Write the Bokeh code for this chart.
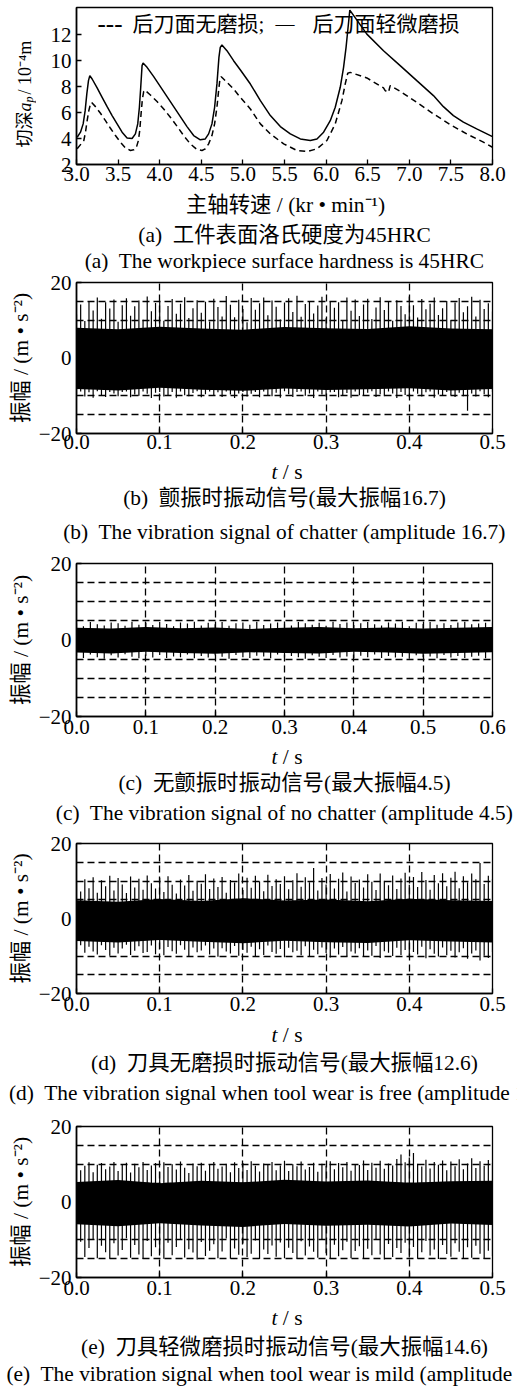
import numpy as np
from math import pi
from bokeh.plotting import figure
from bokeh.models import Label, FixedTicker, Range1d, CustomJSTickFormatter
from bokeh.layouts import column, row
from bokeh.embed import file_html
from bokeh.resources import INLINE

# ---------------- data : panel (a) stability lobes ----------------
A_XTICKS = [3.0, 3.5, 4.0, 4.5, 5.0, 5.5, 6.0, 6.5, 7.0, 7.5, 8.0]
A_YTICKS = [2, 4, 6, 8, 10, 12]

SPEED_NOWEAR = [3.008, 3.088, 3.108, 3.128, 3.148, 3.168, 3.18, 3.228, 3.288, 3.348, 3.408, 3.468,
                3.528, 3.588, 3.648, 3.688, 3.72, 3.744, 3.76, 3.776, 3.792, 3.808, 3.82, 3.888,
                3.968, 4.048, 4.128, 4.208, 4.288, 4.368, 4.448, 4.508, 4.548, 4.588, 4.628, 4.66,
                4.688, 4.708, 4.724, 4.74, 4.808, 4.888, 4.968, 5.09, 5.21, 5.33, 5.49, 5.65, 5.77,
                5.89, 6.01, 6.11, 6.19, 6.23, 6.26, 6.29, 6.49, 6.69, 6.71, 6.75, 6.77, 6.89, 7.09,
                7.29, 7.49, 7.69, 7.89, 8.0]
DEPTH_NOWEAR = [3.21, 3.85, 4.49, 5.38, 6.15, 6.67, 6.79, 6.46, 5.95, 5.38, 4.79, 4.23, 3.72, 3.28,
                3.08, 3.13, 3.33, 3.85, 4.62, 5.90, 7.05, 7.64, 7.74, 7.36, 6.85, 6.28, 5.64, 4.95,
                4.23, 3.59, 3.15, 3.08, 3.21, 3.59, 4.23, 5.13, 6.41, 7.69, 8.59, 8.77, 8.33, 7.82,
                7.18, 6.28, 5.13, 4.36, 3.59, 3.08, 3.0, 3.21, 3.85, 5.13, 6.92, 8.21, 9.03, 9.10,
                8.67, 7.90, 7.69, 7.56, 8.08, 7.64, 6.79, 5.90, 5.08, 4.36, 3.72, 3.33]

SPEED_MILD = [3.008, 3.048, 3.08, 3.104, 3.124, 3.144, 3.16, 3.188, 3.248, 3.308, 3.368, 3.428,
              3.488, 3.548, 3.608, 3.668, 3.708, 3.736, 3.756, 3.772, 3.788, 3.80, 3.848, 3.928,
              4.008, 4.088, 4.168, 4.248, 4.328, 4.408, 4.488, 4.548, 4.588, 4.628, 4.66, 4.688,
              4.712, 4.728, 4.748, 4.808, 4.888, 4.968, 5.09, 5.21, 5.33, 5.45, 5.57, 5.69, 5.81,
              5.89, 5.97, 6.05, 6.11, 6.17, 6.21, 6.24, 6.26, 6.285, 6.49, 6.69, 6.89, 7.09, 7.29,
              7.41, 7.53, 7.65, 7.81, 8.0]
DEPTH_MILD = [4.10, 4.49, 5.13, 6.15, 7.44, 8.46, 8.85, 8.59, 7.90, 7.18, 6.46, 5.77, 5.13, 4.49,
              4.05, 4.0, 4.36, 5.13, 6.41, 7.95, 9.62, 9.82, 9.49, 8.77, 8.0, 7.23, 6.46, 5.69,
              4.92, 4.23, 3.90, 3.97, 4.36, 5.13, 6.41, 8.21, 10.26, 11.03, 11.21, 10.77, 10.0,
              9.3, 8.2, 6.92, 5.77, 4.92, 4.36, 3.97, 3.85, 3.97, 4.49, 5.38, 6.41, 7.95, 9.49,
              11.03, 12.31, 13.9, 12.05, 10.77, 9.62, 8.46, 7.31, 6.46, 5.77, 5.26, 4.74, 4.15]

# ---------------- data : vibration signals (envelopes) ----------------
T_TICKS_05 = [0.0, 0.1, 0.2, 0.3, 0.4, 0.5]
T_TICKS_06 = [0.0, 0.1, 0.2, 0.3, 0.4, 0.5, 0.6]
V_TICKS = [-20, 0, 20]
V_GRID = [-15, -10, -5, 5, 10, 15]

# (b) chatter, 0-0.5 s
B_HI = [11.5, 14.2, 9.8, 15.1, 12.6, 16.0, 10.4, 14.8, 13.1, 15.5,
        9.6, 14.0, 15.8, 11.2, 13.7, 15.2, 10.1, 16.3, 12.4, 14.6,
        15.0, 9.9, 13.8, 15.6, 11.7, 14.4, 16.1, 10.6, 13.2, 15.3,
        12.0, 14.9, 9.7, 15.7, 13.5, 11.0, 16.4, 14.1, 10.8, 15.4,
        13.0, 9.5, 15.9, 12.8, 14.5, 16.0, 11.3, 15.2, 13.6, 10.2,
        14.7, 15.8, 12.2, 16.5, 10.9, 14.3, 15.1, 11.8, 13.9, 16.2,
        10.5, 15.0, 13.3, 14.8, 9.8, 16.0, 12.5, 15.5, 11.1, 14.2,
        15.7, 10.3, 13.4, 16.1, 12.7, 14.9, 9.9, 15.3, 13.8, 11.6,
        16.3, 14.0, 10.7, 15.6, 12.9, 14.4, 16.0, 11.4, 13.2, 15.1,
        10.0, 14.7, 15.9, 12.1, 13.7, 16.2, 11.0, 15.4, 13.0, 14.5, 12.3]
B_LO = [-9.6, -8.9, -10.2, -9.1, -10.5, -8.8, -9.9, -10.3, -9.0, -9.4,
        -10.1, -9.0, -8.9, -10.4, -9.7, -10.0, -8.9, -9.5, -10.6, -9.2,
        -9.0, -10.2, -9.8, -9.0, -10.5, -8.9, -9.9, -10.1, -9.3, -8.8,
        -10.4, -9.6, -8.9, -10.0, -9.1, -10.3, -8.9, -9.7, -10.6, -9.4,
        -9.0, -10.2, -9.5, -9.0, -10.4, -8.9, -9.8, -10.1, -9.2, -10.5,
        -8.8, -9.6, -10.3, -9.0, -8.9, -10.0, -9.4, -10.6, -8.9, -9.7,
        -10.2, -9.1, -9.0, -10.4, -9.8, -9.3, -10.5, -8.9, -9.9, -10.0,
        -9.2, -8.8, -10.3, -9.6, -10.1, -8.9, -9.4, -10.6, -9.0, -9.8,
        -10.4, -8.9, -9.5, -10.2, -9.1, -8.9, -10.5, -9.7, -10.0, -9.0,
        -9.9, -10.3, -9.2, -10.1, -14.0, -9.4, -10.2, -8.8, -9.6, -10.4, -9.1]
B_CORE_HI = [8.0, 7.6, 8.3, 7.8, 7.5, 8.2, 7.9, 7.7, 8.4, 7.8, 7.6]
B_CORE_LO = [-8.2, -8.6, -7.9, -8.4, -8.7, -8.1, -8.5, -8.3, -8.0, -8.6, -8.2]

# (c) no chatter, 0-0.6 s
C_HI = [4.3, 3.6, 4.7, 4.1, 3.8, 4.6, 4.4, 3.7, 4.8, 4.0, 4.5, 3.9, 4.7, 4.2, 3.6, 4.6, 4.3, 4.8,
        3.8, 4.5, 4.1, 4.7, 3.7, 4.4, 4.6, 4.0, 4.8, 3.9, 4.3, 4.6, 4.1, 3.8, 4.7, 4.4, 4.0, 4.5,
        3.7, 4.8, 4.2, 4.6, 3.9, 4.4, 4.7, 4.1, 3.8, 4.6, 4.3, 4.8, 3.6, 4.5, 4.2, 4.7, 4.0, 4.4,
        3.9, 4.6, 4.8, 4.1, 4.3, 4.5, 4.6]
C_LO = [-4.2, -4.7, -3.8, -4.5, -4.9, -4.0, -4.6, -3.7, -4.4, -4.8, -4.1, -4.6, -3.9, -4.7, -4.3,
        -4.5, -3.8, -4.8, -4.2, -4.6, -4.0, -4.4, -4.9, -3.9, -4.5, -4.7, -4.1, -4.3, -4.8, -3.8,
        -4.6, -4.2, -4.5, -4.9, -4.0, -4.4, -4.7, -3.9, -4.6, -4.3, -4.8, -4.1, -4.5, -3.8, -4.7,
        -4.2, -4.6, -4.4, -4.9, -4.0, -4.5, -4.3, -4.8, -3.9, -4.6, -4.2, -4.7, -4.4, -4.1, -4.8, -5.2]
C_CORE_HI = [3.2, 3.0, 3.4, 3.1, 3.3, 2.9, 3.2, 3.4, 3.1, 3.3, 3.0, 3.2, 3.4]
C_CORE_LO = [-3.3, -3.5, -3.1, -3.4, -3.6, -3.2, -3.4, -3.5, -3.1, -3.3, -3.6, -3.4, -3.2]

# (d) tool wear free, 0-0.5 s
D_HI = [9.8, 7.2, 10.5, 8.1, 11.0, 6.9, 10.2, 8.6, 11.4, 7.5,
        10.8, 9.1, 6.8, 11.2, 8.3, 10.6, 7.7, 11.5, 9.4, 8.0,
        10.9, 7.1, 11.3, 9.0, 6.7, 10.4, 8.8, 11.6, 7.4, 10.1,
        9.3, 11.8, 7.9, 10.7, 8.4, 11.1, 6.9, 10.3, 9.6, 12.0,
        7.6, 10.9, 8.2, 11.4, 9.9, 7.3, 11.7, 8.7, 10.5, 9.2,
        11.3, 7.8, 10.2, 12.1, 8.5, 11.0, 9.7, 13.5, 7.5, 10.8,
        9.1, 11.9, 8.0, 10.6, 12.3, 7.2, 11.2, 9.5, 10.4, 8.3,
        11.8, 9.8, 7.6, 12.0, 10.1, 8.9, 11.5, 7.9, 10.7, 12.2,
        9.0, 11.1, 8.4, 12.4, 10.3, 7.7, 11.6, 9.4, 12.1, 8.6,
        10.9, 12.5, 8.1, 11.3, 9.7, 12.0, 10.5, 14.8, 9.2, 11.4, 10.6]
D_LO = [-8.2, -7.1, -9.1, -7.5, -8.8, -9.6, -7.1, -8.4, -9.9, -7.8,
        -9.3, -8.0, -7.0, -9.7, -8.6, -7.4, -9.2, -8.9, -7.2, -9.5,
        -8.1, -9.8, -7.6, -8.7, -9.4, -7.1, -8.3, -10.0, -7.7, -9.0,
        -8.5, -7.2, -9.6, -8.0, -10.2, -7.9, -8.8, -9.3, -7.3, -9.9,
        -8.4, -9.1, -7.5, -10.1, -8.2, -9.7, -7.2, -8.9, -9.4, -8.1,
        -10.3, -7.8, -9.0, -8.6, -9.8, -7.4, -10.0, -8.3, -9.5, -7.7,
        -9.2, -10.4, -8.0, -9.6, -7.6, -10.1, -8.8, -9.3, -7.9, -10.2,
        -8.5, -9.9, -7.3, -10.5, -8.7, -9.1, -10.0, -7.8, -9.7, -8.4,
        -10.3, -8.9, -9.6, -7.5, -10.6, -8.2, -9.4, -10.1, -7.7, -9.8,
        -8.6, -10.4, -9.0, -7.9, -10.7, -9.3, -8.5, -11.2, -9.9, -10.5, -9.0]
D_CORE_HI = [4.9, 4.5, 5.2, 4.7, 5.4, 4.8, 5.1, 4.6, 5.3, 4.9, 4.7]
D_CORE_LO = [-6.0, -6.4, -5.7, -6.2, -6.6, -5.9, -6.3, -6.5, -5.8, -6.1, -6.4]

# (e) mild tool wear, 0-0.5 s
E_HI = [10.2, 8.4, 9.6, 10.5, 7.9, 9.9, 10.3, 8.7, 9.4, 10.6,
        8.2, 9.8, 10.4, 7.8, 10.1, 9.2, 10.6, 8.5, 9.7, 10.3,
        8.0, 10.5, 9.3, 10.0, 8.6, 10.7, 9.1, 7.7, 10.2, 9.5,
        10.4, 8.3, 9.9, 10.6, 8.8, 9.4, 10.1, 7.9, 10.5, 9.0,
        10.3, 8.5, 10.8, 9.6, 8.1, 10.2, 9.8, 10.6, 8.4, 9.7,
        10.9, 8.2, 10.0, 9.5, 10.7, 8.6, 9.3, 10.4, 8.0, 10.1,
        9.6, 10.8, 8.7, 10.3, 9.2, 10.6, 8.3, 10.0, 9.8, 11.0,
        8.5, 10.4, 9.1, 10.9, 8.8, 10.2, 9.7, 11.4, 12.6, 10.5,
        11.8, 13.0, 10.1, 9.4, 11.2, 8.9, 10.6, 9.9, 11.0, 8.4,
        10.7, 9.5, 11.3, 8.7, 10.2, 11.6, 9.0, 10.8, 9.6, 11.1, 10.4]
E_LO = [-13.8, -10.5, -14.6, -12.2, -9.8, -14.9, -11.6, -13.3, -15.0, -10.9,
        -14.2, -12.7, -9.6, -14.8, -11.4, -13.9, -15.1, -10.3, -14.4, -12.0,
        -13.6, -15.0, -10.8, -14.1, -11.9, -9.9, -14.7, -12.5, -13.4, -15.2,
        -10.6, -14.3, -12.9, -11.2, -14.9, -13.1, -9.7, -15.0, -12.3, -14.0,
        -11.0, -14.6, -13.7, -10.2, -15.1, -12.6, -13.8, -11.5, -14.5, -10.7,
        -14.9, -12.1, -13.5, -15.0, -10.4, -14.2, -11.8, -13.2, -14.8, -9.9,
        -13.6, -15.1, -11.3, -14.4, -12.8, -10.5, -14.9, -13.0, -11.7, -15.0,
        -12.4, -14.1, -10.0, -13.9, -15.2, -11.1, -14.6, -12.2, -13.5, -10.8,
        -14.7, -11.9, -15.0, -13.3, -10.3, -14.2, -12.6, -15.1, -11.4, -13.8,
        -14.5, -10.9, -13.2, -15.0, -12.0, -14.8, -11.6, -13.7, -15.1, -12.9, -14.3]
E_CORE_HI = [5.3, 5.8, 5.0, 5.6, 5.2, 5.9, 5.4, 5.7, 5.1, 5.5, 5.6]
E_CORE_LO = [-5.9, -6.4, -5.6, -6.2, -6.6, -5.8, -6.3, -6.0, -6.5, -5.7, -6.1]

# ---------------- styling / layout ----------------
FONT = "'Liberation Serif', 'Noto Sans CJK SC'"
W = 517
FRAME_L = 76          # page x of the plot frame's left edge
FRAME_R = 492         # page x of the plot frame's right edge
CAP = "21.4px"


def style_axes(p, x_standoff=4):
    p.outline_line_color = "black"
    p.outline_line_width = 1.3
    p.background_fill_color = "white"
    p.border_fill_color = "white"
    for ax in (p.xaxis, p.yaxis):
        ax.axis_line_color = "black"
        ax.axis_line_width = 1.6
        ax.major_tick_in = 5
        ax.major_tick_out = 0
        ax.major_tick_line_color = "black"
        ax.major_tick_line_width = 1.3
        ax.minor_tick_line_color = None
        ax.major_label_text_font = FONT
        ax.major_label_text_font_size = "21px"
        ax.major_label_text_color = "black"
    p.xaxis.major_label_standoff = x_standoff
    p.yaxis.major_label_standoff = 5


def text_fig(width, top, bottom):
    """A bare canvas whose data coordinates equal page pixels (y grows downward)."""
    f = figure(width=width, height=bottom - top, x_range=Range1d(0, width),
               y_range=Range1d(bottom, top), output_backend="svg", toolbar_location=None,
               x_axis_location=None, y_axis_location=None, frame_align=False,
               min_border=0, min_border_left=0, min_border_right=0,
               min_border_top=0, min_border_bottom=0)
    f.outline_line_color = None
    f.background_fill_color = "white"
    f.border_fill_color = "white"
    for g in f.grid:
        g.visible = False
    return f


def put(f, x, y, text, size=CAP, align="center", angle=0.0, style="normal"):
    f.add_layout(Label(x=x, y=y, text=text, text_font=FONT, text_font_size=size,
                       text_font_style=style, text_align=align, text_baseline="middle",
                       angle=angle, text_color="black"))


# ---------------- panel (a) ----------------
A_TOP, A_FT, A_FB, A_BOT = 0, 7, 164, 190
YLAB_W = 36
pa = figure(width=W - YLAB_W, height=A_BOT - A_TOP, x_range=Range1d(3.0, 8.0),
            y_range=Range1d(2.0, 14.1), output_backend="svg", toolbar_location=None,
            frame_align=False,
            min_border_left=FRAME_L - YLAB_W, min_border_right=W - FRAME_R,
            min_border_top=A_FT - A_TOP, min_border_bottom=A_BOT - A_FB)
style_axes(pa, x_standoff=2)
pa.grid.visible = False
pa.xaxis.ticker = FixedTicker(ticks=A_XTICKS)
pa.yaxis.ticker = FixedTicker(ticks=A_YTICKS)
pa.xaxis.formatter = CustomJSTickFormatter(code="return tick.toFixed(1);")
pa.line(SPEED_NOWEAR, DEPTH_NOWEAR, line_color="black", line_width=1.5, line_dash="6 4")
pa.line(SPEED_MILD, DEPTH_MILD, line_color="black", line_width=1.5)


def a_data(px, py):
    return (3.0 + (px - FRAME_L) / (FRAME_R - FRAME_L) * 5.0,
            2.0 + (A_FB - py) / (A_FB - A_FT) * 12.1)


for px, txt, size in [(97, "---", "25px"), (132, "后刀面无磨损;", "21px"),
                      (275, "—", "19px"), (312, "后刀面轻微磨损", "21px")]:
    dx, dy = a_data(px, 23)
    put(pa, dx, dy, txt, size=size, align="left")

ya = text_fig(YLAB_W, A_TOP, A_BOT)
put(ya, 24, 147, "切深", size="18px", align="left", angle=pi / 2)
put(ya, 24, 111, "a", size="18px", align="left", angle=pi / 2, style="italic")
put(ya, 28, 102, "p", size="12px", align="left", angle=pi / 2, style="italic")
put(ya, 24, 94, "/ 10⁻⁴m", size="18px", align="left", angle=pi / 2)

ta = text_fig(W, 190, 272)
put(ta, 285, 204, "主轴转速 / (kr • min⁻¹)")
put(ta, 284, 234, "(a)\u00a0 工件表面洛氏硬度为45HRC")
put(ta, 284, 260, "(a)\u00a0 The workpiece surface hardness is 45HRC")


# ---------------- signal panels ----------------
def signal_panel(top, f_top, f_bot, bottom, t_end, ticks, core_hi, core_lo, hi, lo, x_standoff=3):
    p = figure(width=W, height=bottom - top, x_range=Range1d(0.0, t_end),
               y_range=Range1d(-20.0, 20.0), output_backend="svg", toolbar_location=None,
               frame_align=False,
               min_border_left=FRAME_L, min_border_right=W - FRAME_R,
               min_border_top=f_top - top, min_border_bottom=bottom - f_bot)
    style_axes(p, x_standoff=x_standoff)
    p.xaxis.ticker = FixedTicker(ticks=ticks)
    p.yaxis.ticker = FixedTicker(ticks=V_TICKS)
    p.xaxis.formatter = CustomJSTickFormatter(code="return tick.toFixed(1);")
    p.yaxis.formatter = CustomJSTickFormatter(
        code="return tick < 0 ? '\u2212' + Math.abs(tick) : String(tick);")
    p.yaxis.axis_label = "振幅 / (m • s⁻²)"
    p.yaxis.axis_label_text_font = FONT
    p.yaxis.axis_label_text_font_size = CAP
    p.yaxis.axis_label_text_font_style = "normal"
    p.yaxis.axis_label_text_color = "black"
    p.yaxis.axis_label_standoff = 3
    p.xgrid.ticker = FixedTicker(ticks=ticks[1:-1])
    p.ygrid.ticker = FixedTicker(ticks=V_GRID)
    for g in (p.xgrid, p.ygrid):
        g.grid_line_color = "black"
        g.grid_line_width = 1.3
        g.grid_line_dash = "7 4"
        g.grid_line_alpha = 1.0
    tc = np.linspace(0.0, t_end, len(core_hi))
    p.varea(x=tc, y1=core_lo, y2=core_hi, fill_color="black")
    ts_hi = np.linspace(0.0, t_end, len(hi))
    ts_lo = np.linspace(0.0, t_end, len(lo))
    p.segment(x0=ts_hi, y0=np.zeros(len(hi)), x1=ts_hi, y1=hi, line_color="black", line_width=1.2)
    p.segment(x0=ts_lo, y0=np.zeros(len(lo)), x1=ts_lo, y1=lo, line_color="black", line_width=1.2)
    return p


def caption_fig(top, bottom, t_y, cn, cn_y, en, en_y):
    f = text_fig(W, top, bottom)
    put(f, 277, t_y, "t", align="right", style="italic")
    put(f, 277, t_y, "\u00a0/ s", align="left")
    put(f, 284, cn_y, cn)
    put(f, 284, en_y, en)
    return f


pb = signal_panel(272, 282, 433, 458, 0.5, T_TICKS_05, B_CORE_HI, B_CORE_LO, B_HI, B_LO,
                  x_standoff=1)
tb = caption_fig(458, 550, 471, "(b)\u00a0 颤振时振动信号(最大振幅16.7)", 497,
                 "(b)\u00a0 The vibration signal of chatter (amplitude 16.7)", 531)
pc = signal_panel(550, 563, 716, 743, 0.6, T_TICKS_06, C_CORE_HI, C_CORE_LO, C_HI, C_LO)
tc_ = caption_fig(743, 830, 756, "(c)\u00a0 无颤振时振动信号(最大振幅4.5)", 782,
                  "(c)\u00a0 The vibration signal of no chatter (amplitude 4.5)", 812)
pd_ = signal_panel(830, 843, 993, 1020, 0.5, T_TICKS_05, D_CORE_HI, D_CORE_LO, D_HI, D_LO)
td = caption_fig(1020, 1110, 1034, "(d)\u00a0 刀具无磨损时振动信号(最大振幅12.6)", 1062,
                 "(d)\u00a0 The vibration signal when tool wear is free (amplitude 12.6)", 1092)
pe = signal_panel(1110, 1126, 1277, 1304, 0.5, T_TICKS_05, E_CORE_HI, E_CORE_LO, E_HI, E_LO)
te = caption_fig(1304, 1386, 1317, "(e)\u00a0 刀具轻微磨损时振动信号(最大振幅14.6)", 1346,
                 "(e)\u00a0 The vibration signal when tool wear is mild (amplitude 14.6)", 1373)

layout = column(row(ya, pa, spacing=0), ta, pb, tb, pc, tc_, pd_, td, pe, te, spacing=0)
open("out.html", "w").write(file_html(layout, INLINE))
